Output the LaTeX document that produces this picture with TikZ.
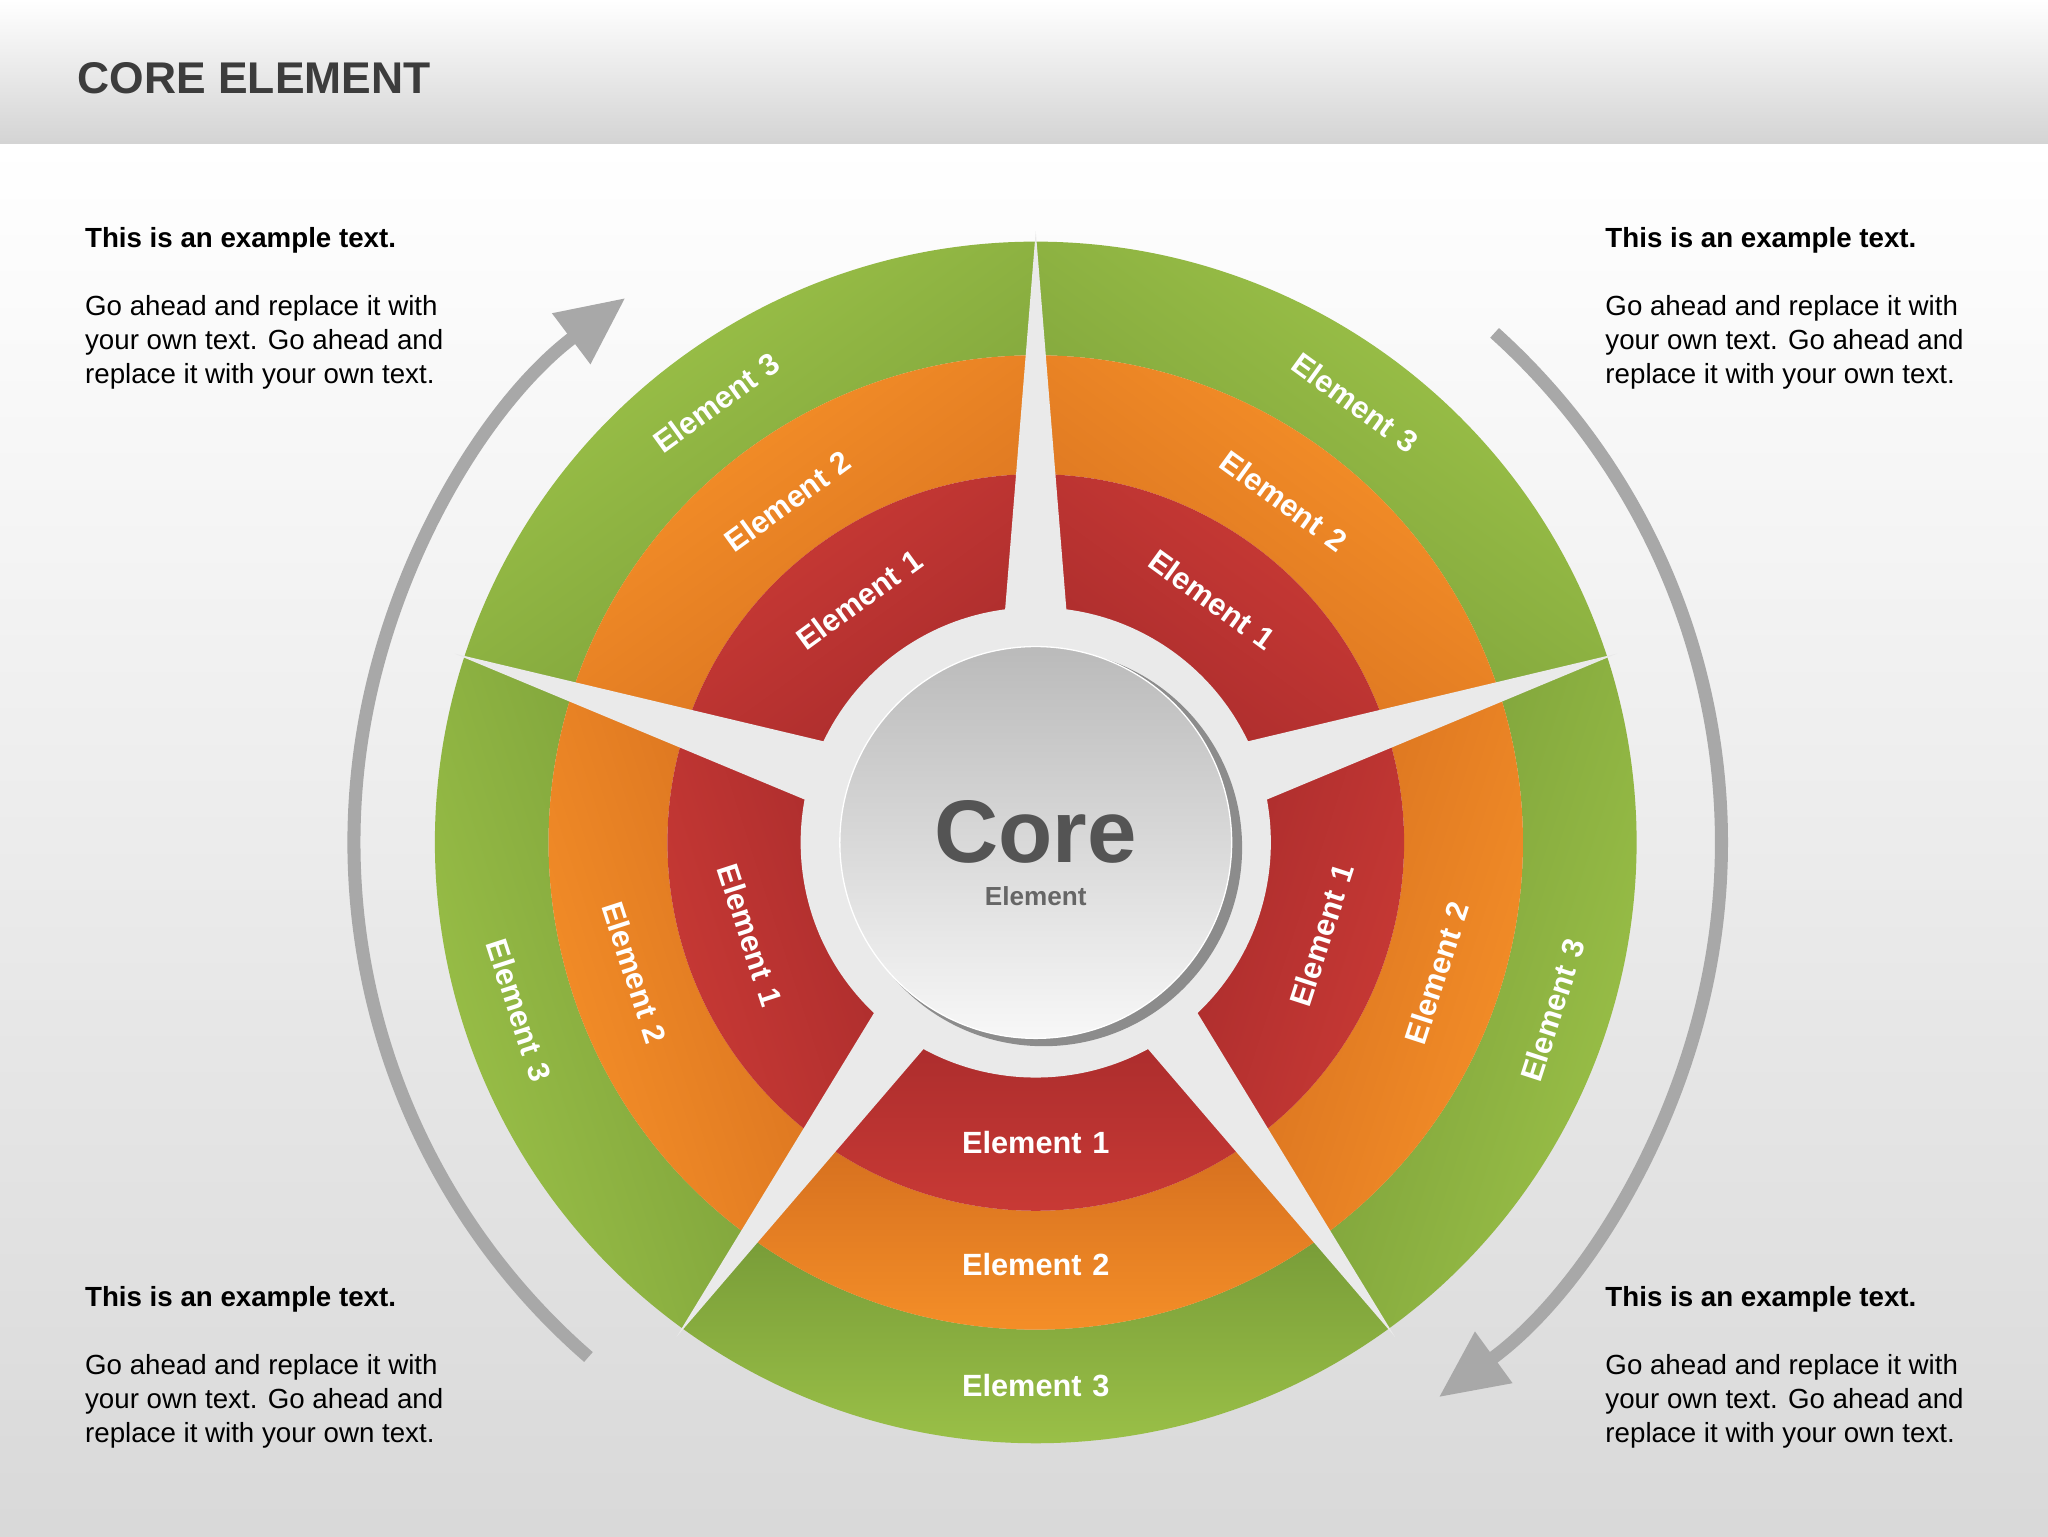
\documentclass[tikz,border=0pt]{standalone}
\usepackage{fontspec}
\setmainfont{Liberation Sans}
\usetikzlibrary{arrows.meta}
\definecolor{gA}{HTML}{789C38}\definecolor{gB}{HTML}{A0C64A}
\definecolor{oA}{HTML}{D56F1F}\definecolor{oB}{HTML}{F99329}
\definecolor{rA}{HTML}{A52A2B}\definecolor{rB}{HTML}{CC3B36}
\definecolor{bgc}{HTML}{EAEAEA}\definecolor{arr}{HTML}{A8A8A8}
\definecolor{ttl}{HTML}{3C3C3C}
\tikzset{
 lbl/.style={text=white,font=\fontsize{23.5}{25}\selectfont\bfseries},
 para/.style={anchor=north west,align=left,inner sep=0pt,text=black,font=\fontsize{21.2}{26}\selectfont},
 bigarr/.style={arr,line width=10pt,-{Triangle[width=46pt,length=52pt]}}
}
\newcommand{\para}{\textbf{This is an example text.}\\[26pt]Go ahead and replace it with\\your own text. Go ahead and\\replace it with your own text.}
\newcommand{\seg}[5]{\shade[top color=#4,bottom color=#5,shading angle=#1-270] (#1-36:#2pt) arc[start angle=#1-36,end angle=#1+36,radius=#2pt] -- (#1+36:#3pt) arc[start angle=#1+36,end angle=#1-36,radius=#3pt] -- cycle;}
\begin{document}
\begin{tikzpicture}[x=1pt,y=1pt]
\useasboundingbox (-793,-531) rectangle (775,645);
\shade[top color=white,bottom color=black!15] (-793,-531) rectangle (775,535);
\shade[top color=white,bottom color=black!17] (-793,535) rectangle (775,645);
\node[anchor=west,text=ttl,font=\fontsize{34}{36}\selectfont\bfseries] (title) at (-737,585) {CORE ELEMENT};
% segments
\foreach \a in {54,126,198,270,342}{
 \seg{\a}{460}{373}{gA}{gB}
 \seg{\a}{373}{282}{oA}{oB}
 \seg{\a}{282}{150}{rA}{rB}
}
% star
\fill[bgc] (90:468pt) \foreach \k in {0,...,4}{ -- ({126+72*\k}:58pt) -- ({162+72*\k}:468pt)} -- cycle;
\fill[bgc] (0,0) circle (180pt);
% core
\fill[black!45] (6,-4) circle (152pt);
\shade[top color=black!27,bottom color=black!3,draw=white,line width=1pt] (0,0) circle (150pt);
\node[text=black!67,font=\fontsize{68}{70}\selectfont\bfseries] (core) at (0,8) {Core};
\node[text=black!60,font=\fontsize{20}{22}\selectfont\bfseries] (coreel) at (0,-41) {Element};
% labels
\foreach \a/\rot in {54/-36,126/36,198/-72,270/0,342/72}{
 \node[lbl,rotate=\rot] (l3\a) at (\a:416pt) {Element\hspace{0.35em}3};
 \node[lbl,rotate=\rot] (l2\a) at (\a:323pt) {Element\hspace{0.35em}2};
 \node[lbl,rotate=\rot] (l1\a) at (\a:230pt) {Element\hspace{0.35em}1};
}
% arrows
\draw[bigarr] (229:522pt) arc[start angle=229,end angle=127,radius=522pt];
\draw[bigarr] (48:525pt) arc[start angle=48,end angle=-54,radius=525pt];
% texts
\node[para] (t1) at (-728,471) {\para};
\node[para] (t2) at (436,471) {\para};
\node[para] (t3) at (-728,-340) {\para};
\node[para] (t4) at (436,-340) {\para};
\end{tikzpicture}
\end{document}
